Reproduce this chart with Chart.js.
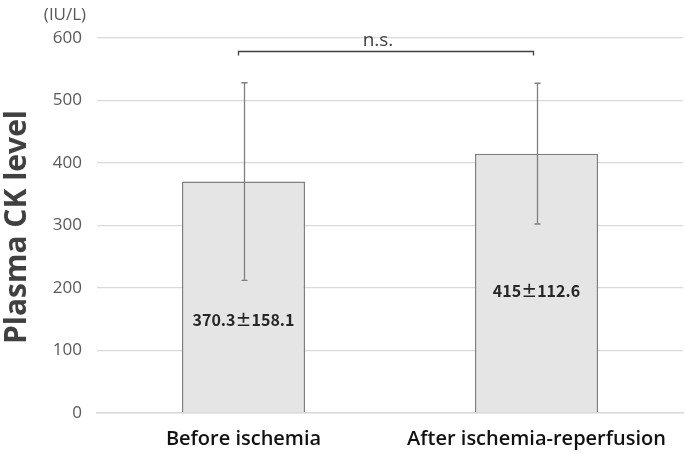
<!DOCTYPE html>
<html><head><meta charset="utf-8">
<script src="https://cdn.jsdelivr.net/npm/chart.js@4"></script>
<style>html,body{margin:0;padding:0;background:#fff}#wrap{width:685px;height:454px}</style>
</head><body><div id="wrap"><canvas id="c" width="685" height="454"></canvas></div>
<script>
const categories = ["Before ischemia", "After ischemia-reperfusion"];
const means = [370.3, 415];
const sds = [158.1, 112.6];
const barLabels = ["370.3\u00b1158.1", "415\u00b1112.6"];
const barLabelAt = [149, 195];
const yTicks = [0, 100, 200, 300, 400, 500, 600];
const unitLabel = "(IU/L)";
const yTitle = "Plasma CK level";
const sigLabel = "n.s.";
const bracketValue = 580;

Chart.defaults.font.family = '"Open Sans", sans-serif';

const overlay = {
  id: 'overlay',
  afterDatasetsDraw(chart) {
    const ctx = chart.ctx;
    const y = chart.scales.y;
    const meta = chart.getDatasetMeta(0);
    ctx.save();
    // error bars
    ctx.strokeStyle = '#7f7f7f';
    ctx.lineWidth = 1.3;
    meta.data.forEach((bar, i) => {
      const x = Math.round(bar.x) + 0.5;
      const lo = y.getPixelForValue(means[i] - sds[i]);
      const hi = y.getPixelForValue(means[i] + sds[i]);
      ctx.beginPath();
      ctx.moveTo(x, lo); ctx.lineTo(x, hi);
      ctx.moveTo(x - 3, lo); ctx.lineTo(x + 3, lo);
      ctx.moveTo(x - 3, hi); ctx.lineTo(x + 3, hi);
      ctx.stroke();
    });
    // bar labels
    ctx.fillStyle = '#262626';
    ctx.font = 'bold 16px "Noto Sans CJK JP", "Open Sans", sans-serif';
    ctx.textAlign = 'center';
    ctx.textBaseline = 'middle';
    meta.data.forEach((bar, i) => {
      ctx.fillText(barLabels[i], bar.x, y.getPixelForValue(barLabelAt[i]));
    });
    // significance bracket
    const by = Math.round(y.getPixelForValue(bracketValue)) + 0.5;
    const x1 = meta.data[0].x - 5, x2 = meta.data[1].x - 3;
    ctx.strokeStyle = '#404040';
    ctx.lineWidth = 1.3;
    ctx.beginPath();
    ctx.moveTo(x1, by + 4); ctx.lineTo(x1, by); ctx.lineTo(x2, by); ctx.lineTo(x2, by + 4);
    ctx.stroke();
    ctx.fillStyle = '#404040';
    ctx.font = '19px "Open Sans", sans-serif';
    ctx.textBaseline = 'alphabetic';
    ctx.fillText(sigLabel, (x1 + x2) / 2 - 8, by - 6);
    // unit label
    ctx.fillStyle = '#595959';
    ctx.font = '17px "Open Sans", sans-serif';
    ctx.fillText(unitLabel, 65, 20);
    // y title
    ctx.translate(17, 227);
    ctx.rotate(-Math.PI / 2);
    ctx.fillStyle = '#404040';
    ctx.font = 'bold 30px "Open Sans", sans-serif';
    ctx.textBaseline = 'middle';
    ctx.fillText(yTitle, 0, 0);
    ctx.restore();
  }
};

new Chart(document.getElementById('c'), {
  type: 'bar',
  data: {
    labels: categories,
    datasets: [{
      data: means,
      backgroundColor: '#e5e5e5',
      borderColor: '#7f7f7f',
      borderWidth: 1.5,
      barPercentage: 0.42,
      categoryPercentage: 1.0
    }]
  },
  options: {
    responsive: false,
    animation: false,
    devicePixelRatio: 1,
    layout: { padding: { top: 38, right: 2, left: 0, bottom: 0 } },
    plugins: { legend: { display: false }, tooltip: { enabled: false } },
    scales: {
      x: {
        grid: { display: false, drawTicks: false },
        border: { display: true, color: '#d9d9d9', width: 1.5 },
        ticks: { color: '#111', font: { family: '"Open Sans", sans-serif', size: 20, weight: '600' }, padding: 14, maxRotation: 0, autoSkip: false },
        afterFit(s) { s.height = 41; }
      },
      y: {
        min: 0, max: 600,
        afterBuildTicks(s) { s.ticks = yTicks.map(v => ({ value: v })); },
        grid: { color: '#d9d9d9', lineWidth: 1.3, drawTicks: false },
        border: { display: false },
        ticks: { color: '#595959', font: { family: '"Open Sans", sans-serif', size: 17 }, padding: 15 },
        afterFit(s) { s.width = 97; }
      }
    }
  },
  plugins: [overlay]
});
</script>
</body></html>
